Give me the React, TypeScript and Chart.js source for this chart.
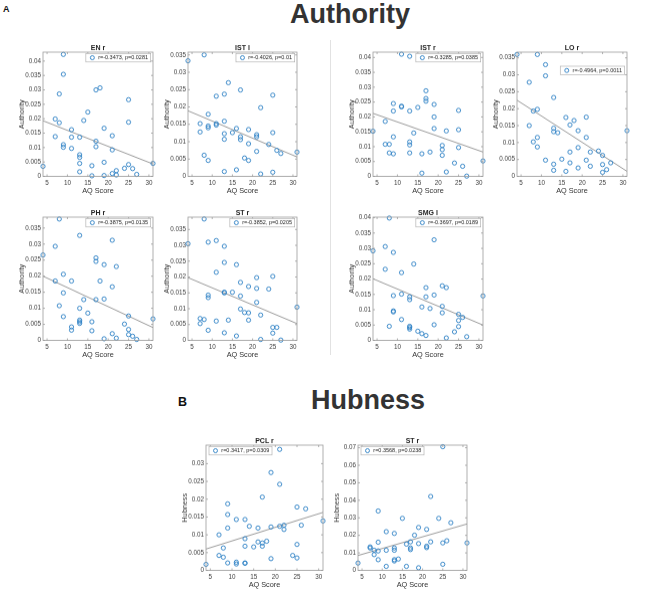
import React, { useEffect, useRef } from 'react';
import { Chart, registerables } from 'chart.js';

Chart.register(...registerables);

// ---------- data ----------
const xTicks = [5, 10, 15, 20, 25, 30];
const yTicks30 = [0, 0.005, 0.01, 0.015, 0.02, 0.025, 0.03];
const yTicks35 = [0, 0.005, 0.01, 0.015, 0.02, 0.025, 0.03, 0.035];
const yTicks40 = [0, 0.005, 0.01, 0.015, 0.02, 0.025, 0.03, 0.035, 0.04];
const yTicksHub = [0, 0.01, 0.02, 0.03, 0.04, 0.05, 0.06, 0.07];

const aqX = [4, 7, 7, 8, 8, 9, 9, 9, 9, 11, 11, 11, 13, 13, 13, 13, 13, 14, 15, 16, 16, 17, 17, 17, 18, 19, 19, 19, 21, 21, 21, 22, 22, 24, 25, 25, 25, 26, 27, 31];

const enY = [0.0035, 0.0199, 0.0138, 0.0286, 0.0186, 0.0423, 0.0354, 0.011, 0.0101, 0.0162, 0.0136, 0.0097, 0.0136, 0.0075, 0.0066, 0.0045, 0.0016, 0.0194, 0.0223, 0.0037, 0.0002, 0.03, 0.0122, 0.0103, 0.0307, 0.0167, 0.0049, 0.0003, 0.0141, 0.0092, 0.001, 0.002, 0.0005, 0.0028, 0.0266, 0.0188, 0.0041, 0.0027, 0.0007, 0.0045];
const enFit = [0.0193, 0.0043];

const istlY = [0.0333, 0.0152, 0.0128, 0.035, 0.0061, 0.0179, 0.0145, 0.014, 0.0046, 0.0231, 0.0152, 0.0148, 0.0237, 0.0159, 0.0123, 0.0107, 0.0014, 0.027, 0.0126, 0.0138, 0.0019, 0.0249, 0.0114, 0.0106, 0.0053, 0.0135, 0.0094, 0.0046, 0.012, 0.0114, 0.0072, 0.0198, 0.0007, 0.0092, 0.0234, 0.0126, 0.0012, 0.0075, 0.0066, 0.007];
const istlFit = [0.0189, 0.0056];

const istrY = [0.0152, 0.0185, 0.0108, 0.0108, 0.0079, 0.0245, 0.022, 0.0133, 0.0076, 0.0411, 0.0236, 0.0234, 0.0404, 0.022, 0.0116, 0.0106, 0.0079, 0.0146, 0.0232, 0.0076, 0.0011, 0.0288, 0.0262, 0.0253, 0.0082, 0.0242, 0.02, 0.0161, 0.0104, 0.009, 0.0071, 0.0153, 0.0015, 0.0045, 0.0222, 0.0157, 0.0097, 0.0034, 0.0001, 0.0052];
const istrFit = [0.0212, 0.0082];

const loY = [0.036, 0.0278, 0.015, 0.0193, 0.0102, 0.036, 0.0198, 0.0115, 0.0087, 0.033, 0.0297, 0.0048, 0.0233, 0.0142, 0.0132, 0.0036, 0.0018, 0.0129, 0.0051, 0.0174, 0.0015, 0.0152, 0.0072, 0.004, 0.0165, 0.0135, 0.0085, 0.0025, 0.0175, 0.0115, 0.0048, 0.0072, 0.003, 0.0075, 0.0062, 0.0035, 0.0012, 0.002, 0.004, 0.0135];
const loFit = [0.0225, 0.0015];

const phX = [4, 7, 7, 8, 8, 9, 9, 9, 11, 11, 11, 13, 13, 13, 13, 13, 14, 15, 16, 16, 17, 17, 17, 18, 19, 19, 19, 21, 21, 21, 22, 22, 24, 25, 25, 25, 26, 27, 31];
const phY = [0.0266, 0.0293, 0.0185, 0.0378, 0.0108, 0.0206, 0.0148, 0.0074, 0.0185, 0.0042, 0.0032, 0.0327, 0.01, 0.0063, 0.0058, 0.0053, 0.0127, 0.0085, 0.0058, 0.003, 0.0257, 0.0246, 0.0127, 0.0185, 0.0236, 0.0129, 0.0005, 0.0312, 0.0167, 0.0021, 0.023, 0.0007, 0.0051, 0.0076, 0.0034, 0.0018, 0.0013, 0.0003, 0.0067];
const phFit = [0.02, 0.004];

const stY = [0.0305, 0.0069, 0.0053, 0.0383, 0.0066, 0.031, 0.0143, 0.0135, 0.0032, 0.0315, 0.0215, 0.0061, 0.0297, 0.0246, 0.0152, 0.015, 0.0024, 0.0064, 0.0152, 0.0239, 0.0014, 0.0183, 0.014, 0.0099, 0.0088, 0.017, 0.0087, 0.0064, 0.0198, 0.0164, 0.012, 0.008, 0.0003, 0.0162, 0.0202, 0.0041, 0.0023, 0.0041, 0.0001, 0.0105];
const stFit = [0.0198, 0.0053];

const smgY = [0.0292, 0.0306, 0.0232, 0.0399, 0.0046, 0.0287, 0.0146, 0.0096, 0.0093, 0.0221, 0.0151, 0.0068, 0.0142, 0.0133, 0.0046, 0.0042, 0.0037, 0.0249, 0.003, 0.0109, 0.0022, 0.0172, 0.0142, 0.0016, 0.0104, 0.0328, 0.0148, 0.0051, 0.0178, 0.0111, 0.009, 0.0172, 0.0008, 0.0028, 0.0085, 0.0065, 0.0045, 0.0075, 0.0012, 0.0145];
const smgFit = [0.0201, 0.005];

const pclX = [4, 7, 7, 8, 8, 9, 9, 9, 9, 11, 11, 11, 13, 13, 13, 13, 13, 14, 15, 16, 16, 17, 17, 17, 18, 19, 19, 19, 21, 21, 21, 22, 22, 24, 25, 25, 25, 26, 27, 31];
const pclY = [0.0017, 0.01, 0.0042, 0.0063, 0.0037, 0.0187, 0.0157, 0.0119, 0.0021, 0.0143, 0.0023, 0.0018, 0.0143, 0.0089, 0.0068, 0.0021, 0.002, 0.0124, 0.0066, 0.0119, 0.008, 0.0206, 0.0077, 0.0068, 0.0082, 0.0275, 0.0122, 0.0033, 0.034, 0.0242, 0.0124, 0.0127, 0.0115, 0.0042, 0.0178, 0.0073, 0.0035, 0.0127, 0.0173, 0.0139];
const pclFit = [0.006, 0.0163];

const sthY = [0.0042, 0.0134, 0.0128, 0.0115, 0.009, 0.0339, 0.0161, 0.0111, 0.0061, 0.0221, 0.0115, 0.0023, 0.0211, 0.0128, 0.0115, 0.0061, 0.0054, 0.0065, 0.0297, 0.015, 0.0023, 0.0163, 0.0128, 0.0119, 0.0201, 0.0245, 0.0153, 0.0015, 0.0234, 0.0138, 0.013, 0.0422, 0.0163, 0.0297, 0.0706, 0.0157, 0.0035, 0.0169, 0.0272, 0.0157];
const sthFit = [0.0085, 0.0265];

// ---------- layout / style ----------
const FONT = '"Liberation Sans", Arial, Helvetica, sans-serif';
const BLUE = '#2a7fc4';
const PAD_TOP = 12;
const PAD_RIGHT = 6;
const Y_AXIS_W = 25;
const X_AXIS_H = 18.5;

type PanelDef = {
  title: string; xs: number[]; ys: number[]; fit: number[]; legend: string;
  yLabel: string; yMax: number; yTicks: number[];
  box: [number, number, number, number]; legendSide: 'left' | 'right'; legendDy: number;
};

const panels: PanelDef[] = [
  { title: 'EN r', xs: aqX, ys: enY, fit: enFit, legend: 'r=-0.3473, p=0.0281', yLabel: 'Authority', yMax: 0.0431, yTicks: yTicks40, box: [43, 52, 110, 124], legendSide: 'right', legendDy: 1.3 },
  { title: 'IST l', xs: aqX, ys: istlY, fit: istlFit, legend: 'r=-0.4026, p=0.01', yLabel: 'Authority', yMax: 0.0358, yTicks: yTicks35, box: [188, 52, 109, 124], legendSide: 'right', legendDy: 1.3 },
  { title: 'IST r', xs: aqX, ys: istrY, fit: istrFit, legend: 'r=-0.3285, p=0.0385', yLabel: 'Authority', yMax: 0.0418, yTicks: yTicks40, box: [373, 52, 110, 124], legendSide: 'right', legendDy: 1.3 },
  { title: 'LO r', xs: aqX, ys: loY, fit: loFit, legend: 'r=-0.4964, p=0.0011', yLabel: 'Authority', yMax: 0.0367, yTicks: yTicks35, box: [517, 52, 110, 124], legendSide: 'right', legendDy: 14 },
  { title: 'PH r', xs: phX, ys: phY, fit: phFit, legend: 'r=-0.3875, p=0.0135', yLabel: 'Authority', yMax: 0.0384, yTicks: yTicks35, box: [43, 217, 110, 123], legendSide: 'right', legendDy: 1.3 },
  { title: 'ST r', xs: aqX, ys: stY, fit: stFit, legend: 'r=-0.3852, p=0.0205', yLabel: 'Authority', yMax: 0.0389, yTicks: yTicks35, box: [188, 217, 109, 123], legendSide: 'right', legendDy: 1.3 },
  { title: 'SMG l', xs: aqX, ys: smgY, fit: smgFit, legend: 'r=-0.3697, p=0.0189', yLabel: 'Authority', yMax: 0.0402, yTicks: yTicks40, box: [373, 217, 110, 123], legendSide: 'right', legendDy: 1.3 },
  { title: 'PCL r', xs: pclX, ys: pclY, fit: pclFit, legend: 'r=0.3417, p=0.0309', yLabel: 'Hubness', yMax: 0.0352, yTicks: yTicks30, box: [206, 445, 117, 125], legendSide: 'left', legendDy: 1.3 },
  { title: 'ST r', xs: aqX, ys: sthY, fit: sthFit, legend: 'r=0.3568, p=0.0238', yLabel: 'Hubness', yMax: 0.0715, yTicks: yTicksHub, box: [358, 445, 109, 125], legendSide: 'left', legendDy: 1.3 },
];

const framePlugin = {
  id: 'frame',
  afterDraw(chart: any, _args: any, opts: any) {
    const { ctx, chartArea: a, scales } = chart;
    ctx.save();
    // box
    ctx.strokeStyle = '#9c9c9c';
    ctx.lineWidth = 0.8;
    ctx.strokeRect(a.left, a.top, a.right - a.left, a.bottom - a.top);
    // inward ticks
    const tl = 2;
    ctx.beginPath();
    scales.x.ticks.forEach((t: any) => {
      const px = scales.x.getPixelForValue(t.value);
      ctx.moveTo(px, a.bottom); ctx.lineTo(px, a.bottom - tl);
      ctx.moveTo(px, a.top); ctx.lineTo(px, a.top + tl);
    });
    scales.y.ticks.forEach((t: any) => {
      const py = scales.y.getPixelForValue(t.value);
      ctx.moveTo(a.left, py); ctx.lineTo(a.left + tl, py);
      ctx.moveTo(a.right, py); ctx.lineTo(a.right - tl, py);
    });
    ctx.stroke();
    // title
    ctx.fillStyle = '#1e1e1e';
    ctx.font = `bold 7px ${FONT}`;
    ctx.textAlign = 'center';
    ctx.textBaseline = 'alphabetic';
    ctx.fillText(opts.title, (a.left + a.right) / 2, a.top - 2.5);
    // legend
    ctx.font = `5.5px ${FONT}`;
    const tw = ctx.measureText(opts.legend).width;
    const w = tw + 15;
    const h = 8.5;
    const lx = opts.legendSide === 'right' ? a.right - 2.3 - w : a.left + 3;
    const ly = a.top + opts.legendDy;
    ctx.fillStyle = '#ffffff';
    ctx.fillRect(lx, ly, w, h);
    ctx.strokeStyle = '#a8a8a8';
    ctx.lineWidth = 0.6;
    ctx.strokeRect(lx, ly, w, h);
    ctx.beginPath();
    ctx.arc(lx + 6.5, ly + h / 2, 2, 0, Math.PI * 2);
    ctx.strokeStyle = BLUE;
    ctx.lineWidth = 0.9;
    ctx.stroke();
    ctx.fillStyle = '#222';
    ctx.textAlign = 'left';
    ctx.textBaseline = 'middle';
    ctx.fillText(opts.legend, lx + 12.3, ly + h / 2 + 0.3);
    ctx.restore();
  },
};

function Panel({ p }: { p: PanelDef }) {
  const ref = useRef<HTMLCanvasElement>(null);
  const [bl, bt, bw, bh] = p.box;
  const cw = Y_AXIS_W + bw + PAD_RIGHT;
  const ch = PAD_TOP + bh + X_AXIS_H;
  useEffect(() => {
    if (!ref.current) return;
    const tickFont = { family: FONT, size: 6.3 };
    const labelFont = { family: FONT, size: 7.3 };
    const chart = new Chart(ref.current, {
      type: 'scatter',
      data: {
        datasets: [
          {
            data: p.xs.map((x, i) => ({ x, y: p.ys[i] })),
            pointStyle: 'circle',
            pointRadius: 2.1,
            pointBorderWidth: 0.9,
            borderColor: BLUE,
            backgroundColor: 'rgba(0,0,0,0)',
            clip: 6,
          } as any,
          {
            data: [{ x: 4, y: p.fit[0] }, { x: 31, y: p.fit[1] }],
            showLine: true,
            pointRadius: 0,
            borderColor: '#8e8e8e',
            borderWidth: 0.9,
            backgroundColor: 'rgba(0,0,0,0)',
          } as any,
        ],
      },
      options: {
        animation: false,
        responsive: false,
        maintainAspectRatio: false,
        devicePixelRatio: 1,
        layout: { padding: { left: 0, top: PAD_TOP, right: PAD_RIGHT, bottom: 0 } },
        plugins: {
          legend: { display: false },
          tooltip: { enabled: false },
          frame: { title: p.title, legend: p.legend, legendSide: p.legendSide, legendDy: p.legendDy },
        } as any,
        scales: {
          x: {
            type: 'linear',
            min: 4,
            max: 31,
            afterFit: (s: any) => { s.height = X_AXIS_H; },
            afterBuildTicks: (s: any) => { s.ticks = xTicks.map((v) => ({ value: v })); },
            grid: { display: false, drawTicks: false },
            border: { display: false },
            ticks: { padding: 2.5, color: '#404040', font: tickFont, maxRotation: 0, autoSkip: false },
            title: { display: true, text: 'AQ Score', color: '#333', font: labelFont, padding: { top: 0, bottom: 0 } },
          },
          y: {
            type: 'linear',
            min: 0,
            max: p.yMax,
            afterFit: (s: any) => { s.width = Y_AXIS_W; },
            afterBuildTicks: (s: any) => { s.ticks = p.yTicks.map((v) => ({ value: v })); },
            grid: { display: false, drawTicks: false },
            border: { display: false },
            ticks: {
              padding: 2,
              color: '#404040',
              font: tickFont,
              autoSkip: false,
              callback: (v: any) => String(+Number(v).toFixed(4)),
            },
            title: { display: true, text: p.yLabel, color: '#333', font: labelFont, padding: { top: 0, bottom: 0 } },
          },
        } as any,
      },
      plugins: [framePlugin],
    });
    return () => chart.destroy();
  }, [p]);
  return (
    <canvas
      ref={ref}
      width={cw}
      height={ch}
      style={{ position: 'absolute', left: bl - Y_AXIS_W, top: bt - PAD_TOP, width: cw, height: ch }}
    />
  );
}

export default function App() {
  const big = { position: 'absolute' as const, fontFamily: FONT, fontWeight: 'bold' as const, color: '#333', lineHeight: 1, whiteSpace: 'nowrap' as const };
  return (
    <div style={{ position: 'absolute', left: 0, top: 0, width: 660, height: 590, background: '#fff', overflow: 'hidden' }}>
      <div style={{ ...big, left: 3, top: 5.4, fontSize: 9, color: '#111' }}>A</div>
      <div style={{ ...big, left: 350, top: 1.2, fontSize: 27, transform: 'translateX(-50%)' }}>Authority</div>
      <div style={{ position: 'absolute', left: 330, top: 40, width: 1, height: 315, background: '#e2e2e2' }} />
      <div style={{ ...big, left: 178, top: 395.5, fontSize: 12.5, color: '#111' }}>B</div>
      <div style={{ ...big, left: 368, top: 387, fontSize: 27, transform: 'translateX(-50%)' }}>Hubness</div>
      {panels.map((p, i) => (
        <Panel key={i} p={p} />
      ))}
    </div>
  );
}
